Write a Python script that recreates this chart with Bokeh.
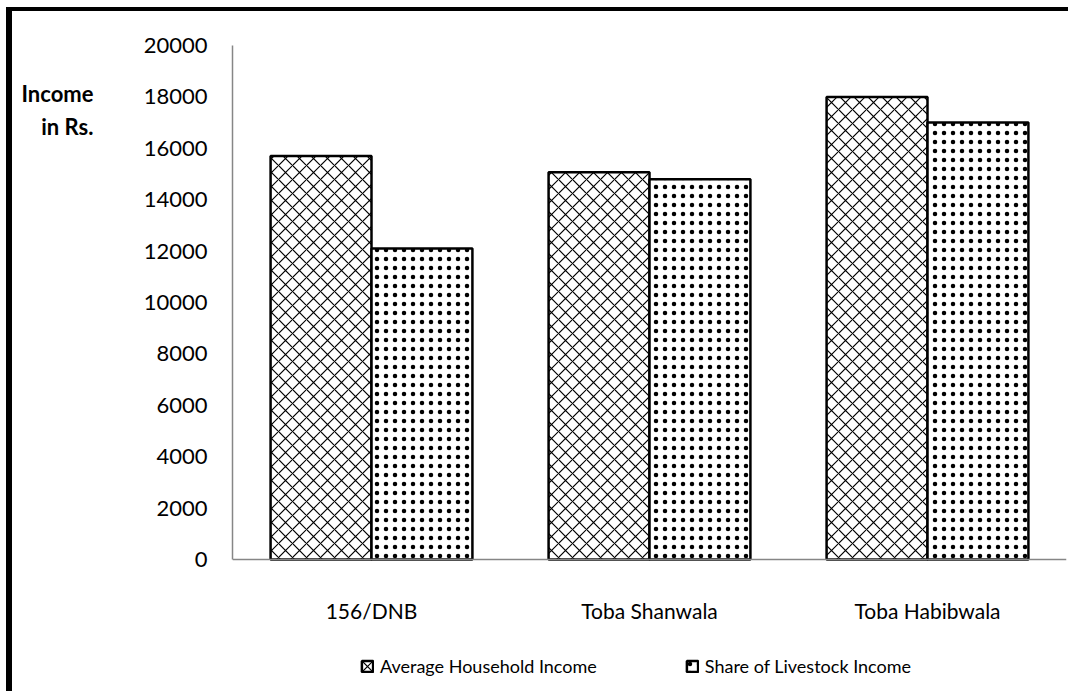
from bokeh.plotting import figure
from bokeh.models import (ColumnDataSource, FactorRange, Range1d, Legend, LegendItem,
                          FixedTicker, NumeralTickFormatter, LinearAxis)
from bokeh.transform import dodge
from bokeh.embed import file_html
from bokeh.resources import INLINE

categories = ["156/DNB", "Toba Shanwala", "Toba Habibwala"]
avg_income = [15700, 15070, 18000]
livestock_income = [12100, 14800, 17000]
y_ticks = [0, 2000, 4000, 6000, 8000, 10000, 12000, 14000, 16000, 18000, 20000]
series_names = ["Average Household Income", "Share of Livestock Income"]
y_title_lines = ["Income", "in Rs."]
y_title_at = [18130, 16850]   # heights (in axis units) at which the two title lines sit

FONT = "Lato"
Y_MAX = 20000
FRAME_H = 646                  # frame runs down to the bottom of the window; legend lives below the 0 line
PX_PER_UNIT = 514 / Y_MAX
Y_MIN = Y_MAX - FRAME_H / PX_PER_UNIT

src = ColumnDataSource(dict(cat=categories, avg=avg_income, live=livestock_income))

p = figure(x_range=FactorRange(factors=categories, range_padding=0),
           y_range=Range1d(Y_MIN, Y_MAX),
           frame_width=834, frame_height=FRAME_H,
           min_border_left=220, min_border_right=2, min_border_top=34, min_border_bottom=0,
           output_backend="svg", toolbar_location=None, tools="")
p.styles = {"border-left": "6px solid black", "border-top": "4px solid black",
            "margin-left": "6px", "margin-top": "7px"}

p.outline_line_color = None
p.xgrid.grid_line_color = None
p.ygrid.grid_line_color = None
p.background_fill_color = "white"
p.border_fill_color = "white"

r1 = p.vbar(x=dodge("cat", -0.1815, range=p.x_range), top="avg", bottom=0, width=0.363, source=src,
            fill_color="white", line_color="black", line_width=2.5,
            hatch_pattern="diagonal_cross", hatch_color="black", hatch_scale=14, hatch_weight=1.2)
r2 = p.vbar(x=dodge("cat", 0.1815, range=p.x_range), top="live", bottom=0, width=0.363, source=src,
            fill_color="white", line_color="black", line_width=2.5,
            hatch_pattern="dot", hatch_color="black", hatch_scale=9, hatch_weight=2.5)

ya = p.yaxis[0]
ya.ticker = FixedTicker(ticks=y_ticks)
ya.formatter = NumeralTickFormatter(format="0")
ya.bounds = (0, Y_MAX)
ya.major_tick_out = 0
ya.major_tick_in = 0
ya.minor_tick_out = 0
ya.minor_tick_in = 0
ya.axis_line_color = "#868686"
ya.axis_line_width = 1.5
ya.major_label_standoff = 25
ya.major_label_text_font = FONT
ya.major_label_text_font_size = "22px"
ya.major_label_text_color = "black"

# outer axis used only to carry the two-line horizontal y title
title_axis = LinearAxis(ticker=FixedTicker(ticks=y_title_at),
                        major_label_overrides={y_title_at[0]: y_title_lines[0],
                                               y_title_at[1]: y_title_lines[1]})
title_axis.axis_line_color = None
title_axis.major_tick_out = 0
title_axis.major_tick_in = 0
title_axis.minor_tick_out = 0
title_axis.minor_tick_in = 0
title_axis.major_label_standoff = 47
title_axis.major_label_text_font = FONT
title_axis.major_label_text_font_style = "bold"
title_axis.major_label_text_font_size = "22px"
title_axis.major_label_text_color = "black"
p.add_layout(title_axis, "left")

xa = p.xaxis[0]
xa.fixed_location = 0
xa.major_tick_out = 0
xa.major_tick_in = 0
xa.axis_line_color = "#868686"
xa.axis_line_width = 1.5
xa.major_label_standoff = 38
xa.major_label_text_font = FONT
xa.major_label_text_font_size = "21px"
xa.major_label_text_color = "black"

legend = Legend(items=[LegendItem(label=series_names[0], renderers=[r1]),
                       LegendItem(label=series_names[1], renderers=[r2])],
                orientation="horizontal", location=(128, 14),
                label_text_font=FONT, label_text_font_size="18px", label_text_color="black",
                glyph_width=14, glyph_height=14, label_standoff=6, spacing=88,
                border_line_color=None, background_fill_alpha=0, margin=0, padding=8)
p.add_layout(legend, "center")

open("out.html", "w").write(file_html(p, INLINE))
